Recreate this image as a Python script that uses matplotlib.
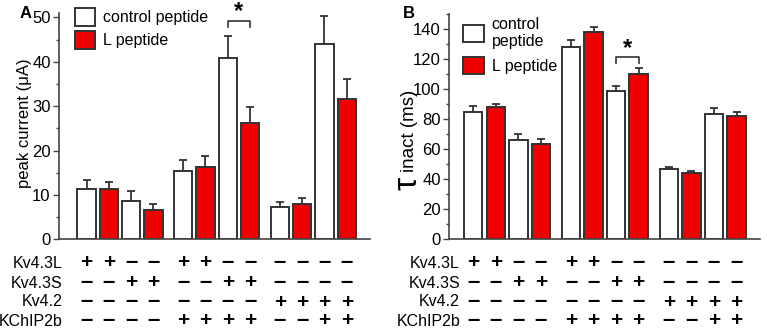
import matplotlib
matplotlib.use("Agg")
import matplotlib.pyplot as plt
import matplotlib.transforms as mtransforms
from matplotlib.ticker import MultipleLocator
import numpy as np

plt.rcParams['font.family'] = ['Liberation Sans', 'DejaVu Sans']

# Conditions (pairs of bars: control peptide / L peptide)
row_names = ["Kv4.3L", "Kv4.3S", "Kv4.2", "KChIP2b"]
row_signs = [
    ["+", "+", "-", "-", "+", "+", "-", "-", "-", "-", "-", "-"],
    ["-", "-", "+", "+", "-", "-", "+", "+", "-", "-", "-", "-"],
    ["-", "-", "-", "-", "-", "-", "-", "-", "+", "+", "+", "+"],
    ["-", "-", "-", "-", "+", "+", "+", "+", "-", "-", "+", "+"],
]
series_names = ["control peptide", "L peptide"]

# Peak current (uA)
peak_ctrl = [11.3, 8.7, 15.3, 40.9, 7.3, 43.9]
peak_ctrl_sem = [2.1, 2.1, 2.6, 5.0, 1.0, 6.4]
peak_lpep = [11.4, 6.5, 16.2, 26.1, 7.9, 31.5]
peak_lpep_sem = [1.5, 1.4, 2.5, 3.8, 1.3, 4.5]

# Inactivation time constant (ms)
tau_ctrl = [85.1, 66.2, 128.4, 98.9, 46.9, 83.5]
tau_ctrl_sem = [4.0, 3.8, 4.3, 3.1, 1.5, 3.8]
tau_lpep = [88.4, 63.3, 138.0, 110.2, 44.2, 82.0]
tau_lpep_sem = [1.8, 3.8, 3.7, 3.8, 1.1, 3.1]

RED = "#f00000"
EDGE = "#333333"
SPINE = "#444444"
W, H = 767, 331

fig = plt.figure(figsize=(W / 100, H / 100), dpi=100)


def px_axes(left, top, right, bottom):
    return fig.add_axes([left / W, 1 - bottom / H, (right - left) / W, (bottom - top) / H])


def bar_positions(n_pairs, group_gap=0.33):
    c = np.arange(n_pairs)
    g = c // 2
    ctrl = 2 * c + g * group_gap
    return ctrl, ctrl + 1


def draw_panel(ax, ctrl, ctrl_sem, lpep, lpep_sem, ylim, major, minor, xlim):
    xc, xl = bar_positions(len(ctrl))
    bw = 0.82
    b1 = ax.bar(xc, ctrl, width=bw, color="white", edgecolor=EDGE, linewidth=1.4,
                label=series_names[0], zorder=2)
    b2 = ax.bar(xl, lpep, width=bw, color=RED, edgecolor=EDGE, linewidth=1.4,
                label=series_names[1], zorder=2)
    for x, v, e in ((xc, ctrl, ctrl_sem), (xl, lpep, lpep_sem)):
        ax.errorbar(x, v, yerr=[np.zeros(len(v)), e], fmt="none", ecolor=EDGE,
                    elinewidth=1.3, capsize=3.2, capthick=1.3, zorder=1)
    ax.set_ylim(*ylim)
    ax.set_xlim(*xlim)
    ax.yaxis.set_major_locator(MultipleLocator(major))
    ax.yaxis.set_minor_locator(MultipleLocator(minor))
    ax.tick_params(axis="y", which="major", direction="out", length=4, width=1,
                   color=SPINE, labelsize=12, pad=2)
    ax.tick_params(axis="y", which="minor", direction="out", length=2.5, width=1,
                   color=SPINE)
    ax.tick_params(axis="x", bottom=False, labelbottom=False)
    for s in ("top", "right"):
        ax.spines[s].set_visible(False)
    for s in ("left", "bottom"):
        ax.spines[s].set_color(SPINE)
        ax.spines[s].set_linewidth(1.2)
    return xc, xl, b1, b2


def draw_table(ax, xc, xl, label_right_px):
    xs = np.ravel(np.column_stack([xc, xl]))
    trans = mtransforms.blended_transform_factory(ax.transData, fig.transFigure)
    row_y = [263, 283, 302, 321]
    for name, signs, y in zip(row_names, row_signs, row_y):
        fig.text(label_right_px / W, 1 - y / H, name, ha="right", va="center",
                 fontsize=11.5)
        for x, s in zip(xs, signs):
            if s == "+":
                ax.text(x, 1 - y / H, "+", transform=trans, ha="center",
                        va="center", fontsize=15, fontweight="bold", clip_on=False)
            else:
                ax.text(x, 1 - y / H + 0.002, "\u2013", transform=trans,
                        ha="center", va="center", fontsize=16, fontweight="bold",
                        clip_on=False)


def star_bracket(ax, x0, x1, y_top, y_end, y_star):
    ax.plot([x0, x0, x1, x1], [y_end, y_top, y_top, y_end], color=EDGE, lw=1.2,
            clip_on=False)
    ax.text((x0 + x1) / 2, y_star, "*", ha="center", va="center", fontsize=17,
            fontweight="bold", clip_on=False)


# Panel A: peak current
axA = px_axes(59, 12.9, 370, 239.3)
xc, xl, b1, b2 = draw_panel(axA, peak_ctrl, peak_ctrl_sem, peak_lpep, peak_lpep_sem,
                            (0, 51), 10, 5, (-1.232, 12.70))
axA.set_ylabel("peak current (\u03bcA)", fontsize=12)
axA.yaxis.set_label_coords(-0.087, 0.514)
legA = axA.legend(handles=[b1, b2], loc="upper left", bbox_to_anchor=(0.05, 1.02),
                  frameon=False, fontsize=11.5, handlelength=1.3, handleheight=1.3,
                  handletextpad=0.5, labelspacing=0.35, borderpad=0, borderaxespad=0)
star_bracket(axA, xc[3], xl[3], 49.2, 47.9, 51.2)
draw_table(axA, xc, xl, 63)
fig.text(25.5 / W, 1 - 14 / H, "A", ha="center", va="center", fontsize=12,
         fontweight="bold")

# Panel B: inactivation time constant
axB = px_axes(449.3, 14.3, 760, 239.3)
xc, xl, b1, b2 = draw_panel(axB, tau_ctrl, tau_ctrl_sem, tau_lpep, tau_lpep_sem,
                            (0, 150), 20, 10, (-1.06, 12.70))
legB = axB.legend(handles=[b1, b2], labels=["control\npeptide", series_names[1]],
                  loc="upper left", bbox_to_anchor=(0.044, 0.99),
                  frameon=False, fontsize=11.5, handlelength=1.3, handleheight=1.3,
                  handletextpad=0.5, labelspacing=0.5, borderpad=0, borderaxespad=0)
star_bracket(axB, xc[3], xl[3], 121.7, 117.7, 127.0)
draw_table(axB, xc, xl, 460)
fig.text(409 / W, 1 - 14 / H, "B", ha="center", va="center", fontsize=12,
         fontweight="bold")
# y label: large tau followed by "inact (ms)"
fig.text(408 / W, 1 - 183 / H, "\u03c4", rotation=90, ha="center", va="center",
         fontsize=24)
fig.text(409 / W, 1 - 172 / H, "inact (ms)", rotation=90, ha="center", va="bottom",
         fontsize=13.5)

fig.savefig("out.png", dpi=100)
